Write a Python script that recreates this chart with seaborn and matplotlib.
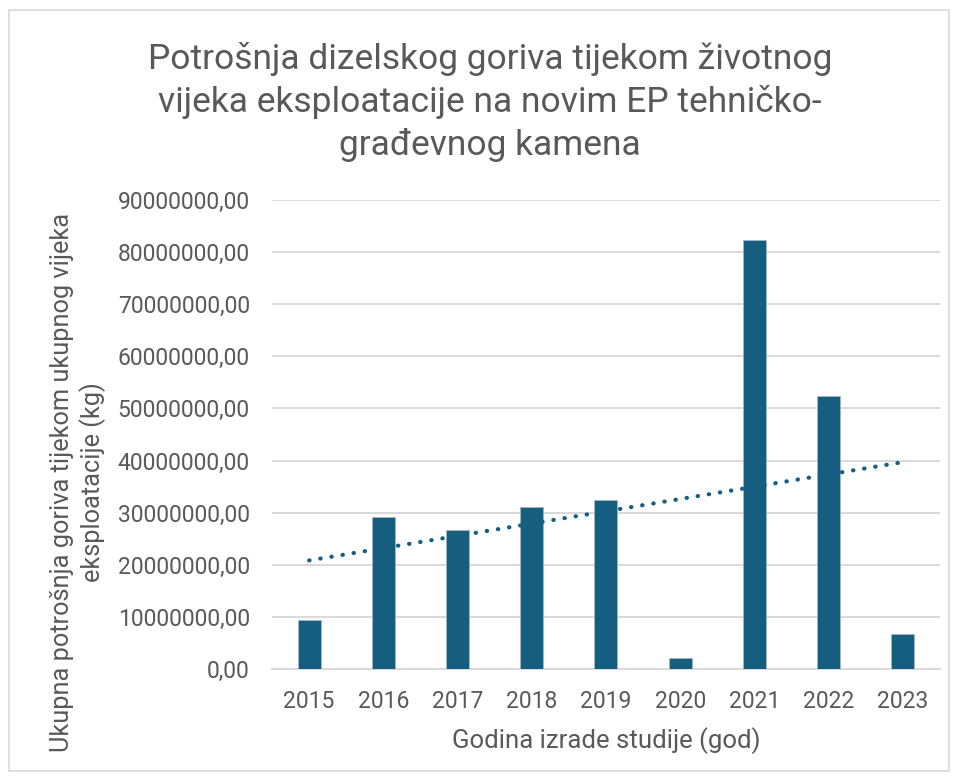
import numpy as np
import pandas as pd
import matplotlib
matplotlib.use("Agg")
import matplotlib.pyplot as plt
import seaborn as sns
from matplotlib.patches import Rectangle
from matplotlib.ticker import FuncFormatter

years = ["2015", "2016", "2017", "2018", "2019", "2020", "2021", "2022", "2023"]
values = [9.4e6, 29.2e6, 26.7e6, 31.0e6, 32.4e6, 2.2e6, 82.4e6, 52.4e6, 6.7e6]
title = "Potrošnja dizelskog goriva tijekom životnog\nvijeka eksploatacije na novim EP tehničko-\ngrađevnog kamena"
xlabel = "Godina izrade studije (god)"
ylabel = "Ukupna potrošnja goriva tijekom ukupnog vijeka\neksploatacije (kg)"

sns.set_theme(style="white")
plt.rcParams["font.family"] = ["Roboto", "DejaVu Sans"]

BAR = "#165E80"
GRAY = "#595959"

fig = plt.figure(figsize=(9.58, 7.8), dpi=100)
ax = fig.add_axes([0.284, 0.1423, 0.697, 0.6013])

df = pd.DataFrame({"year": years, "value": values})
sns.barplot(data=df, x="year", y="value", color=BAR, width=0.31, ax=ax,
            saturation=1, edgecolor="#9FB9C8", linewidth=0.6, zorder=3)

# linear trend line
xpos = np.arange(len(years))
coef = np.polyfit(xpos, values, 1)
ax.plot(xpos, np.polyval(coef, xpos), linestyle=(0, (0.1, 2.6)), dash_capstyle="round",
        color=BAR, linewidth=3, zorder=4)

ax.set_ylim(0, 90e6)
ax.set_yticks(np.arange(0, 90e6 + 1, 10e6))
ax.yaxis.set_major_formatter(FuncFormatter(lambda v, p: f"{v:.2f}".replace(".", ",")))
ax.set_xlim(-0.5, len(years) - 0.5)
ax.grid(axis="y", color="#D9D9D9", linewidth=1.4, zorder=0)
ax.grid(axis="x", visible=False)
for s in ["top", "right", "left"]:
    ax.spines[s].set_visible(False)
ax.spines["bottom"].set_color("#D9D9D9")
ax.spines["bottom"].set_linewidth(1.4)
ax.tick_params(axis="both", length=0, labelsize=16.5, colors=GRAY)
ax.tick_params(axis="x", pad=15)
ax.tick_params(axis="y", pad=16)

ax.set_xlabel(xlabel, fontsize=18.5, color=GRAY, labelpad=10)
ax.set_ylabel("")
fig.text(78 / 958, 1 - 482 / 780, ylabel, rotation=90, ha="center", va="center",
         multialignment="center", fontsize=18.3, color=GRAY, linespacing=1.25)

fig.text(490 / 958, 1 - 102 / 780, title, ha="center", va="center", fontsize=25.5,
         color=GRAY, linespacing=1.33)

fig.patches.append(Rectangle((0.009, 0.012), 0.982, 0.975, transform=fig.transFigure,
                             fill=False, edgecolor="#D9D9D9", linewidth=1.2))

fig.savefig("out.png", dpi=100)
